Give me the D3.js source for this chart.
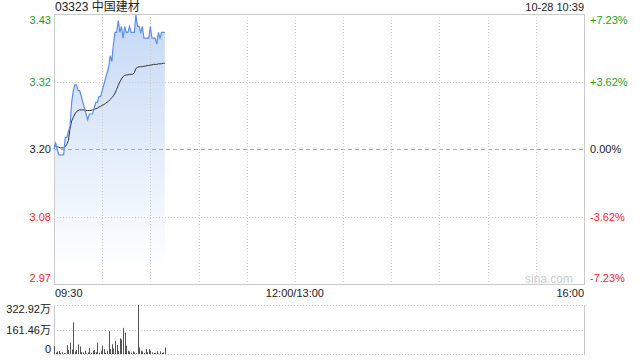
<html>
<head>
	<meta charset="utf-8">
	<title>03323 中国建材</title>
	<script src="https://d3js.org/d3.v7.min.js"></script>
</head>
<body>
	<style> *{
		margin: 0px;
		padding: 0px;
	}
	body { background: #fff; }
	text { font-family: "Liberation Sans", Arial, "Noto Sans CJK SC", sans-serif; font-size: 11px; }
	</style>

	<svg id="SVGcanvas" width="640" height="360" xmlns="http://www.w3.org/2000/svg">
	</svg>

	<script>
	// stock info
	var stockTitle = "03323 中国建材";
	var stampText = "10-28 10:39";
	var prevClose = 3.20;
	var maxPct = 0.0723;

	// axis labels
	var priceLabels = [ "3.43", "3.32", "3.20", "3.08", "2.97" ];
	var pctLabels = [ "+7.23%", "+3.62%", "0.00%", "-3.62%", "-7.23%" ];
	var timeLabels = [ "09:30", "12:00/13:00", "16:00" ];
	var volLabels = [ "322.92万", "161.46万", "0" ];
	var volMax = 322.92;

	// one value per minute from 09:30
	var prices = [ 3.20, 3.21, 3.20, 3.19, 3.19, 3.19, 3.19, 3.22, 3.22, 3.23,
		3.24, 3.28, 3.30, 3.31, 3.31, 3.30, 3.30, 3.29, 3.28, 3.27,
		3.26, 3.25, 3.26, 3.26, 3.26, 3.27, 3.28, 3.28, 3.29, 3.29,
		3.30, 3.31, 3.32, 3.33, 3.34, 3.36, 3.35, 3.38, 3.40, 3.40,
		3.42, 3.40, 3.41, 3.39, 3.41, 3.40, 3.40, 3.41, 3.40, 3.40,
		3.40, 3.43, 3.41, 3.41, 3.40, 3.41, 3.39, 3.39, 3.39, 3.39,
		3.41, 3.39, 3.39, 3.39, 3.38, 3.40, 3.39, 3.40, 3.40, 3.40 ];

	var avgPrices = [ 3.205, 3.205, 3.204, 3.203, 3.202, 3.202, 3.202, 3.204, 3.208, 3.215,
		3.235, 3.248, 3.254, 3.260, 3.264, 3.266, 3.267, 3.267, 3.267, 3.267,
		3.266, 3.266, 3.266, 3.266, 3.267, 3.268, 3.269, 3.270, 3.272, 3.273,
		3.275, 3.276, 3.278, 3.280, 3.282, 3.285, 3.288, 3.291, 3.296, 3.302,
		3.309, 3.315, 3.320, 3.324, 3.326, 3.327, 3.327, 3.328, 3.328, 3.328,
		3.331, 3.338, 3.340, 3.341, 3.341, 3.341, 3.342, 3.342, 3.343, 3.343,
		3.344, 3.344, 3.345, 3.345, 3.345, 3.346, 3.346, 3.346, 3.347, 3.347 ];

	// volume in 万 shares
	var volumes = [ 54, 10, 16, 20, 8, 12, 6, 5, 57, 26,
		75, 30, 209, 17, 26, 64, 50, 13, 10, 22,
		4, 11, 39, 9, 22, 26, 12, 75, 9, 22,
		54, 32, 8, 22, 150, 32, 64, 36, 86, 60,
		20, 103, 97, 172, 140, 54, 22, 17, 9, 17,
		11, 6, 322.92, 43, 22, 17, 8, 32, 12, 32,
		22, 11, 6, 8, 17, 4, 17, 8, 10, 43 ];

	// panel edges (window.top is reserved, so prefixed names)
	var plotLeft = 54, plotRight = 584, plotTop = 14, plotBottom = 284;
	var volTop = 305, volBottom = 354;
	var totalMinutes = 330;

	var svg = d3.select( "#SVGcanvas" );

	var x = d3.scaleLinear().domain( [ 0, totalMinutes ] ).range( [ plotLeft, plotRight ] );
	var y = d3.scaleLinear()
		.domain( [ prevClose * ( 1 - maxPct ), prevClose * ( 1 + maxPct ) ] )
		.range( [ plotBottom, plotTop ] );
	var yVol = d3.scaleLinear().domain( [ 0, volMax ] ).range( [ volBottom, volTop ] );

	// gradient for the area under the price line
	var grad = svg.append( "defs" ).append( "linearGradient" )
		.attr( "id", "areaFill" )
		.attr( "gradientUnits", "userSpaceOnUse" )
		.attr( "x1", 0 ).attr( "y1", plotTop )
		.attr( "x2", 0 ).attr( "y2", plotBottom - 14 );
	grad.append( "stop" ).attr( "offset", "0" ).attr( "stop-color", "#c4d8f6" );
	grad.append( "stop" ).attr( "offset", "1" ).attr( "stop-color", "#ffffff" );

	var area = d3.area()
		.x( function ( d, i ) { return x( i ); } )
		.y0( plotBottom )
		.y1( function ( d ) { return y( d ); } );
	svg.append( "path" )
		.datum( prices )
		.attr( "d", area )
		.attr( "fill", "url(#areaFill)" );

	// horizontal grid lines at quarter steps
	var gridSteps = [ 1, 0.5, 0, -0.5, -1 ];
	gridSteps.forEach( function ( k, i ) {
		var gy = Math.round( y( prevClose * ( 1 + k * maxPct ) ) ) + 0.5;
		if ( i == 0 || i == gridSteps.length - 1 )
			return;
		svg.append( "line" )
			.attr( "x1", plotLeft ).attr( "x2", plotRight )
			.attr( "y1", gy ).attr( "y2", gy )
			.attr( "stroke", k == 0 ? "#aaa" : "#ccc" )
			.attr( "stroke-dasharray", k == 0 ? "4,3" : "1,2" );
	} );

	// vertical grid lines every 30 minutes
	for ( var m = 30; m < totalMinutes; m += 30 ) {
		var gx = Math.round( x( m ) ) + 0.5;
		svg.append( "line" )
			.attr( "x1", gx ).attr( "x2", gx )
			.attr( "y1", plotTop ).attr( "y2", plotBottom )
			.attr( "stroke", "#ccc" )
			.attr( "stroke-dasharray", "1,2" );
	}

	// border of price panel
	svg.append( "rect" )
		.attr( "x", plotLeft + 0.5 ).attr( "y", plotTop + 0.5 )
		.attr( "width", plotRight - plotLeft ).attr( "height", plotBottom - plotTop )
		.attr( "fill", "none" )
		.attr( "stroke", "#ccc" );

	// watermark
	svg.append( "text" )
		.attr( "x", 573 ).attr( "y", 283 )
		.attr( "text-anchor", "end" )
		.attr( "fill", "#ccc" )
		.style( "font-size", "12px" )
		.text( "sina.com" );

	// price and average lines
	var priceLine = d3.line()
		.x( function ( d, i ) { return x( i ); } )
		.y( function ( d ) { return y( d ); } );
	svg.append( "path" )
		.datum( avgPrices )
		.attr( "d", priceLine )
		.attr( "fill", "none" )
		.attr( "stroke", "#333" )
		.attr( "stroke-width", 1 );
	svg.append( "path" )
		.datum( prices )
		.attr( "d", priceLine )
		.attr( "fill", "none" )
		.attr( "stroke", "#5a8ef0" )
		.attr( "stroke-width", 1.2 );

	// price and percent labels
	function labelColor( i ) {
		if ( i < 2 ) return "#1aa31a";
		if ( i > 2 ) return "#f22";
		return "#222";
	}
	var labelOffsets = [ 6, 0, 0, 0, -6 ];
	gridSteps.forEach( function ( k, i ) {
		var ly = y( prevClose * ( 1 + k * maxPct ) ) + labelOffsets[i] + 4;
		svg.append( "text" )
			.attr( "x", 51 ).attr( "y", ly )
			.attr( "text-anchor", "end" )
			.attr( "fill", labelColor( i ) )
			.text( priceLabels[i] );
		svg.append( "text" )
			.attr( "x", 590 ).attr( "y", ly )
			.attr( "fill", labelColor( i ) )
			.text( pctLabels[i] );
	} );

	// title and time stamp
	svg.append( "text" )
		.attr( "x", 55 ).attr( "y", 11 )
		.attr( "fill", "#222" )
		.style( "font-size", "12px" )
		.text( stockTitle );
	svg.append( "text" )
		.attr( "x", 584 ).attr( "y", 11 )
		.attr( "text-anchor", "end" )
		.attr( "fill", "#222" )
		.text( stampText );

	// time labels
	var timeX = [ plotLeft + 1, x( 150 ), plotRight ];
	var timeAnchor = [ "start", "middle", "end" ];
	timeLabels.forEach( function ( t, i ) {
		svg.append( "text" )
			.attr( "x", timeX[i] ).attr( "y", 297 )
			.attr( "text-anchor", timeAnchor[i] )
			.attr( "fill", "#222" )
			.text( t );
	} );

	// volume panel grid
	var volGrid = [ volMax, volMax / 2, 0 ];
	volGrid.forEach( function ( v ) {
		var vy = Math.round( yVol( v ) ) + 0.5;
		svg.append( "line" )
			.attr( "x1", plotLeft ).attr( "x2", plotRight )
			.attr( "y1", vy ).attr( "y2", vy )
			.attr( "stroke", "#ccc" )
			.attr( "stroke-dasharray", "1,2" );
	} );
	[ plotLeft, plotRight ].forEach( function ( bx ) {
		svg.append( "line" )
			.attr( "x1", bx + 0.5 ).attr( "x2", bx + 0.5 )
			.attr( "y1", volTop ).attr( "y2", volBottom + 1 )
			.attr( "stroke", "#ccc" );
	} );

	// volume bars
	svg.selectAll( "rect.vol" )
		.data( volumes )
		.enter()
		.append( "rect" )
		.attr( "class", "vol" )
		.attr( "x", function ( d, i ) { return Math.round( x( i ) ); } )
		.attr( "y", function ( d ) { return yVol( d ); } )
		.attr( "width", 1 )
		.attr( "height", function ( d ) { return volBottom - yVol( d ); } )
		.attr( "fill", "#555" );

	// volume labels
	var volLabelY = [ 313, 334, 353 ];
	volLabels.forEach( function ( t, i ) {
		svg.append( "text" )
			.attr( "x", 51 ).attr( "y", volLabelY[i] )
			.attr( "text-anchor", "end" )
			.attr( "fill", "#222" )
			.text( t );
	} );
	</script>

</body>
</html>
